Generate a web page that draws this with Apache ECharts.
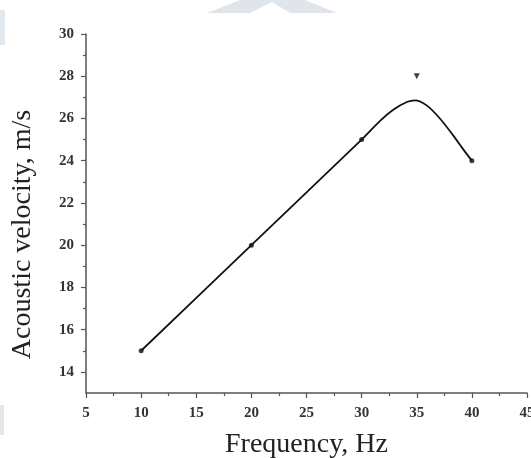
<!DOCTYPE html>
<html>
<head>
<meta charset="utf-8">
<script src="https://cdn.jsdelivr.net/npm/echarts@6/dist/echarts.min.js"></script>
<style>
  html, body { margin: 0; padding: 0; background: #fff; }
  #chart { width: 531px; height: 458px; }
</style>
</head>
<body>
<div id="chart"></div>
<script>
// measured points
const freq = [10, 20, 30, 35, 40]
const velocity = [15, 20, 25, 28, 24]
const pointSymbols = ['circle', 'circle', 'circle', 'triangle', 'circle']

// fitted curve
const fitFreq = [10, 20, 30, 31.7, 32.9, 34.1, 34.85, 35.9, 37.1, 38.3, 39.2, 40]
const fitVelocity = [15, 20, 25, 25.9, 26.42, 26.78, 26.86, 26.62, 26.0, 25.2, 24.55, 24]

const yTicks = [14, 16, 18, 20, 22, 24, 26, 28, 30]
const yMinorTicks = [15, 17, 19, 21, 23, 25, 27, 29]

const font = 'Liberation Serif, Times New Roman, serif'
const axisColor = '#555'

const chart = echarts.init(document.getElementById('chart'))

const points = freq.map((f, i) => ({
  value: [f, velocity[i]],
  symbol: pointSymbols[i],
  symbolSize: pointSymbols[i] === 'triangle' ? 6 : 5,
  symbolRotate: pointSymbols[i] === 'triangle' ? 180 : 0
}))

chart.setOption({
  animation: false,
  grid: { left: 86, right: 4, top: 34, bottom: 65, outerBoundsMode: 'none' },
  graphic: [
    // faint watermark pieces at the edges of the scan
    { type: 'polygon', shape: { points: [[207, 13], [240, 0], [305, 0], [337, 13], [290, 13], [272, 2], [250, 13]] }, style: { fill: '#dfe5ea' }, silent: true },
    { type: 'rect', shape: { x: 0, y: 10, width: 5, height: 35 }, style: { fill: '#e3e8ec' }, silent: true },
    { type: 'rect', shape: { x: 0, y: 405, width: 4, height: 30 }, style: { fill: '#e3e8ec' }, silent: true }
  ],
  xAxis: {
    type: 'value',
    min: 5,
    max: 45,
    interval: 5,
    name: 'Frequency, Hz',
    nameLocation: 'middle',
    nameGap: 38,
    nameTextStyle: { fontFamily: font, fontSize: 28, color: '#222' },
    axisLine: { lineStyle: { color: axisColor, width: 1.5 } },
    axisTick: { length: 5, lineStyle: { color: axisColor, width: 1.2 } },
    minorTick: { show: true, splitNumber: 2, length: 3, lineStyle: { color: axisColor, width: 1.2 } },
    axisLabel: { fontFamily: font, fontSize: 15, fontWeight: 'bold', color: '#333', margin: 13, showMaxLabel: true },
    splitLine: { show: false }
  },
  yAxis: [{
    type: 'value',
    min: 13,
    max: 30,
    name: 'Acoustic velocity, m/s',
    nameLocation: 'middle',
    nameGap: 49,
    nameTextStyle: { fontFamily: font, fontSize: 28, color: '#222', padding: [0, 42, 0, 0] },
    axisLine: { lineStyle: { color: axisColor, width: 1.5 } },
    axisTick: { customValues: yTicks, length: 5, lineStyle: { color: axisColor, width: 1.2 } },
    axisLabel: { customValues: yTicks, fontFamily: font, fontSize: 15, fontWeight: 'bold', color: '#333', margin: 12 },
    splitLine: { show: false }
  }, {
    type: 'value',
    position: 'left',
    min: 13,
    max: 30,
    axisLine: { show: false },
    axisTick: { customValues: yMinorTicks, length: 3, lineStyle: { color: axisColor, width: 1.2 } },
    axisLabel: { show: false },
    splitLine: { show: false }
  }],
  series: [{
    type: 'line',
    data: fitFreq.map((f, i) => [f, fitVelocity[i]]),
    smooth: 0.3,
    showSymbol: false,
    lineStyle: { color: '#111', width: 1.8 },
    z: 2
  }, {
    type: 'scatter',
    data: points,
    itemStyle: { color: '#111' },
    z: 3
  }]
})
</script>
</body>
</html>
